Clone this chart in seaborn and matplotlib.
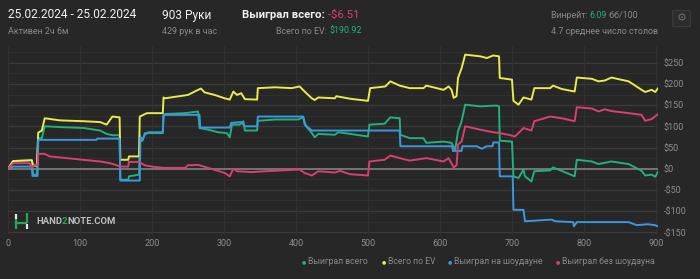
import numpy as np
import pandas as pd
import matplotlib
matplotlib.use("Agg")
import matplotlib.pyplot as plt
from matplotlib.lines import Line2D
from matplotlib.patches import FancyBboxPatch
import seaborn as sns

# ---------------- data ----------------
series_names = ["Выиграл всего", "Всего по EV", "Выиграл на шоудауне", "Выиграл без шоудауна"]

ev_hands = [0, 7, 33, 35, 40, 42, 47, 51, 72, 105, 128, 137, 145, 155, 156, 167, 168, 182, 183, 193, 215, 216,
            218, 250, 264, 268, 273, 287, 301, 308, 313, 318, 324, 329, 346, 347, 371, 394, 405, 412, 422, 426, 431, 454,
            456, 475, 500, 503, 524, 531, 544, 558, 577, 581, 605, 612, 616, 619, 623, 625, 630, 635, 656, 665, 674, 682,
            683, 700, 702, 709, 716, 727, 731, 753, 757, 769, 787, 790, 811, 820, 829, 838, 862, 880, 885, 894, 899, 903]
ev_vals = [0, 18, 20, 8, 6, 85, 90, 119, 114, 112, 110, 104, 123, 121, 21, 21, 29, 29, 123, 131, 131, 168,
           166, 174, 186, 189, 180, 174, 166, 163, 182, 174, 178, 164, 163, 190, 192, 190, 194, 182, 166, 162, 168, 166,
           171, 165, 160, 190, 194, 206, 196, 190, 190, 196, 186, 194, 186, 167, 171, 214, 237, 269, 265, 261, 267, 265,
           214, 210, 160, 151, 168, 163, 190, 190, 196, 188, 182, 215, 212, 206, 208, 215, 206, 186, 181, 186, 181, 190]

tot_hands = [0, 7, 33, 35, 40, 42, 47, 51, 75, 105, 128, 137, 145, 155, 156, 167, 168, 182, 183, 187, 190, 215, 216,
             218, 246, 264, 266, 278, 292, 304, 308, 311, 322, 327, 329, 346, 347, 371, 403, 410, 414, 422, 426, 431, 454,
             459, 500, 502, 523, 531, 544, 545, 558, 577, 581, 605, 616, 621, 625, 630, 635, 656, 678, 682,
             683, 700, 702, 709, 716, 718, 727, 731, 753, 757, 769, 787, 790, 811, 820, 838, 862, 880, 885, 894, 899, 903]
tot_vals = [0, 18, 20, -14, -14, 72, 72, 100, 98, 96, 90, 82, 79, 79, -26, -26, -18, -14, 78, 66, 84, 84, 126,
            129, 131, 135, 96, 92, 86, 84, 74, 104, 104, 112, 90, 90, 113, 116, 116, 121, 100, 84, 74, 82, 80,
            86, 76, 104, 106, 121, 119, 80, 72, 72, 61, 64, 61, 45, 88, 112, 151, 147, 149, 147,
            66, 64, -18, -22, -2, -18, -30, -6, -4, 3, -5, -18, 21, 17, 11, 17, 11, -5, -16, -14, -19, -6.5]

sd_hands = [0, 7, 33, 34, 41, 42, 51, 123, 124, 155, 156, 183, 184, 186, 190, 195, 215, 216,
            218, 266, 267, 308, 310, 324, 329, 346, 347, 410, 412, 422, 454,
            544, 545, 617, 618, 630, 631, 651, 658, 665, 673, 674, 682,
            683, 701, 702, 716, 718, 755, 760, 785, 786, 790, 862, 873, 889, 898, 903]
sd_vals = [0, 5, 5, -17, -17, 68, 68, 68, 71, 71, -28, -28, 74, 66, 80, 86, 86, 126,
           127, 127, 97, 97, 108, 110, 100, 100, 123, 123, 104, 90, 90,
           90, 53, 53, 42, 42, 53, 53, 47, 53, 53, 62, 62,
           -18, -18, -97, -97, -124, -120, -124, -126, -136, -126, -126, -133, -131, -133, -136]

nsd_hands = [0, 7, 30, 33, 36, 41, 42, 51, 58, 81, 104, 128, 142, 156, 167, 168, 182, 190, 200, 215,
             246, 250, 264, 278, 301, 308, 313, 318, 338, 357, 380, 405, 412, 422, 431, 454,
             461, 475, 500, 502, 523, 531, 544, 558, 581, 605, 612, 619, 623, 625, 630, 635, 656, 674, 683,
             695, 704, 709, 716, 727, 731, 753, 769, 787, 790, 811, 820, 829, 838, 862, 880, 885, 894, 903]
nsd_vals = [0, 13, 13, 3, 8, 8, 35, 35, 29, 25, 21, 17, 13, 5, 5, 16, 16, 8, 5, 2,
            2, 8, 9, 2, -10, -18, 0, -6, -8, -6, -4, -2, -10, -16, -6, -9,
            -5, -13, -16, 17, 21, 31, 25, 19, 25, 17, 25, 3, 8, 57, 64, 100, 92, 86, 84,
            80, 76, 84, 96, 90, 112, 123, 119, 112, 145, 142, 135, 140, 136, 131, 127, 113, 117, 129]

x_ticks = [0, 100, 200, 300, 400, 500, 600, 700, 800, 900]
y_ticks = [-150, -100, -50, 0, 50, 100, 150, 200, 250]
y_tick_labels = ["-$150", "-$100", "-$50", "$0", "$50", "$100", "$150", "$200", "$250"]

colors = {"Выиграл всего": "#22b07d", "Всего по EV": "#e9ea4e",
          "Выиграл на шоудауне": "#3b98e0", "Выиграл без шоудауна": "#da3f70"}

# ---------------- build table ----------------
frames = []
for name, h, v in [(series_names[0], tot_hands, tot_vals), (series_names[1], ev_hands, ev_vals),
                   (series_names[2], sd_hands, sd_vals), (series_names[3], nsd_hands, nsd_vals)]:
    frames.append(pd.DataFrame({"hand": h, "value": v, "series": name}))
df = pd.concat(frames, ignore_index=True)

# ---------------- style ----------------
BG = "#272727"
sns.set_theme(style="dark")
plt.rcParams["font.family"] = ["Roboto", "DejaVu Sans"]

W, H = 700, 279
fig = plt.figure(figsize=(W / 100, H / 100), dpi=100, facecolor=BG)
renderer = fig.canvas.get_renderer()

def fx(px):
    return px / W

def fy(py):
    return 1 - py / H

def text_run(x_px, y_px, pieces, fontsize, gap=0.0):
    """Place consecutive text pieces [(text, color, weight)] starting at x_px."""
    x = x_px
    for txt, col, wt in pieces:
        t = fig.text(fx(x), fy(y_px), txt, color=col, fontsize=fontsize, fontweight=wt,
                     va="center", ha="left")
        bb = t.get_window_extent(renderer=renderer)
        x += bb.width + gap
    return x

ymin, ymax = -156, 290
y_top_px = 168.7 - ymax * 21.2 / 50
y_bot_px = 168.7 - ymin * 21.2 / 50
xmin, xmax = 0, 903
x_left_px = 8
x_right_px = 8 + 0.72 * xmax
ax = fig.add_axes([fx(x_left_px), fy(y_bot_px), fx(x_right_px - x_left_px), (y_bot_px - y_top_px) / H])
ax.set_facecolor(BG)

# grid
for yv in np.arange(-150, 291, 25):
    if yv == 0:
        continue
    major = (yv % 50 == 0)
    ax.axhline(yv, color="#3b3b3b" if major else "#303030", lw=0.9 if major else 0.7, zorder=0)
for xv in x_ticks:
    ax.axvline(xv, color="#323232", lw=0.7, zorder=0)
ax.axhline(0, color="#8a8a8a", lw=1.1, zorder=1)

sns.lineplot(data=df, x="hand", y="value", hue="series", palette=colors, units="series",
             estimator=None, sort=False, legend=False, lw=1.4, ax=ax, zorder=3)

ax.set_xlim(xmin, xmax)
ax.set_ylim(ymin, ymax)
ax.set_xticks(x_ticks)
ax.set_xticklabels([str(t) for t in x_ticks])
ax.set_yticks(y_ticks)
ax.set_yticklabels(y_tick_labels)
ax.yaxis.tick_right()
ax.tick_params(axis="both", length=0, colors="#8e8e8e", labelsize=6.5)
ax.tick_params(axis="y", pad=4)
ax.tick_params(axis="x", pad=3)
ax.set_xlabel("")
ax.set_ylabel("")
ax.grid(False)
for s in ax.spines.values():
    s.set_visible(False)

# ---------------- header ----------------
WHITE = "#f0f0f0"
GREY = "#8a8a8a"
GREEN = "#22b07d"
PINK = "#da3f70"
fig.text(fx(8), fy(15), "25.02.2024 - 25.02.2024", color=WHITE, fontsize=8.6, va="center", ha="left")
fig.text(fx(8), fy(31), "Активен 2ч 6м", color=GREY, fontsize=6.4, va="center", ha="left")
fig.text(fx(162), fy(15), "903 Руки", color=WHITE, fontsize=8.6, va="center", ha="left")
fig.text(fx(162), fy(31), "429 рук в час", color=GREY, fontsize=6.4, va="center", ha="left")
text_run(242, 15, [("Выиграл всего:", WHITE, "bold"), (" -$6.51", PINK, "normal")], 8.2)
text_run(276, 31, [("Всего по EV: ", GREY, "normal"), ("$190.92", GREEN, "normal")], 6.4)
text_run(551, 15, [("Винрейт: ", GREY, "normal"), ("6.09", GREEN, "normal"), (" бб/100", GREY, "normal")], 6.4)
fig.text(fx(551), fy(31), "4.7 среднее число столов", color=GREY, fontsize=6.4, va="center", ha="left")

# settings button
btn = FancyBboxPatch((fx(674), fy(26)), fx(15), 15 / H, boxstyle="round,pad=0.002",
                     transform=fig.transFigure, facecolor="#2c2c2c", edgecolor="#3a3a3a", lw=0.8)
fig.patches.append(btn)
fig.text(fx(681.5), fy(18), "⚙", color="#6a6a6a", fontsize=8, va="center", ha="center",
         family=["DejaVu Sans"])

# ---------------- watermark ----------------
for (x0, y0, x1, y1, c) in [(16, 214, 16, 218.5, "#e6e6e6"), (16, 218.5, 16, 229, "#2aa65a"),
                            (16, 223, 27, 223, "#2aa65a"), (27, 213, 27, 223, "#2aa65a"),
                            (27, 223.5, 27, 228.5, "#e6e6e6")]:
    fig.add_artist(Line2D([fx(x0), fx(x1)], [fy(y0), fy(y1)], transform=fig.transFigure,
                          color=c, lw=1.6, solid_capstyle="butt"))
text_run(36, 221, [("HAND", "#bdbdbd", "bold"), ("2", "#2aa65a", "bold"), ("NOTE.COM", "#bdbdbd", "bold")], 6.8)

# ---------------- legend ----------------
legend_x = [302, 382, 448, 556]
for name, lx in zip(series_names, legend_x):
    fig.text(fx(lx), fy(262), "●", color=colors[name], fontsize=3.5, va="center", ha="left",
             family=["DejaVu Sans"])
    fig.text(fx(lx + 6), fy(262), name, color=GREY, fontsize=6.2, va="center", ha="left")

fig.savefig("out.png", dpi=100, facecolor=BG)
